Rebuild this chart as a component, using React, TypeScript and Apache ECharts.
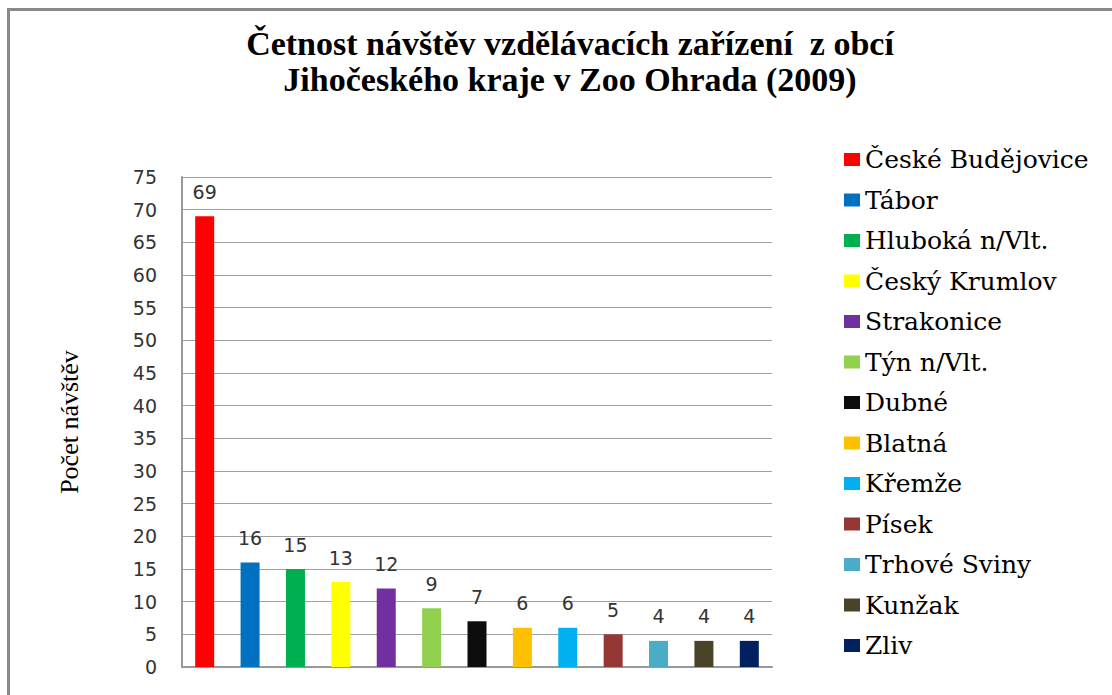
import React, { useEffect, useRef } from "react";
import * as echarts from "echarts";

const categories = [
  "České Budějovice",
  "Tábor",
  "Hluboká n/Vlt.",
  "Český Krumlov",
  "Strakonice",
  "Týn n/Vlt.",
  "Dubné",
  "Blatná",
  "Křemže",
  "Písek",
  "Trhové Sviny",
  "Kunžak",
  "Zliv",
];
const values = [69, 16, 15, 13, 12, 9, 7, 6, 6, 5, 4, 4, 4];
const colors = [
  "#FF0000",
  "#0070C0",
  "#00B050",
  "#FFFF00",
  "#7030A0",
  "#92D050",
  "#0D0D0D",
  "#FFC000",
  "#00B0F0",
  "#953735",
  "#4BACC6",
  "#494429",
  "#002060",
];
const yTicks = { min: 0, max: 75, interval: 5 };
const titleText = "Četnost návštěv vzdělávacích zařízení  z obcí\nJihočeského kraje v Zoo Ohrada (2009)";
const yAxisName = "Počet návštěv";

export default function App() {
  const ref = useRef<HTMLDivElement>(null);
  useEffect(() => {
    if (!ref.current) return;
    const chart = echarts.init(ref.current, null, { renderer: "svg" });
    const series = categories.map((name, i) => ({
      name,
      type: "bar",
      stack: "all",
      barWidth: 19,
      itemStyle: { color: colors[i] },
      label: {
        show: true,
        position: "top",
        distance: 15,
        fontFamily: "DejaVu Sans",
        fontSize: 19,
        color: "#333333",
      },
      data: categories.map((_, j) => (j === i ? values[i] : null)),
    }));
    chart.setOption({
      animation: false,
      backgroundColor: "#ffffff",
      title: {
        text: titleText,
        left: 565,
        top: 20,
        textAlign: "center",
        textStyle: {
          fontFamily: "Liberation Serif",
          fontWeight: "bold",
          fontSize: 34,
          lineHeight: 36,
          color: "#000000",
        },
      },
      graphic: [
        {
          type: "rect",
          shape: { x: 8.5, y: 9.5, width: 1200, height: 800 },
          style: { fill: "none", stroke: "#898989", lineWidth: 3 },
          silent: true,
        },
      ],
      legend: {
        orient: "vertical",
        left: 839,
        top: 142,
        icon: "rect",
        itemWidth: 16,
        itemHeight: 13,
        itemGap: 15.5,
        data: categories,
        textStyle: {
          fontFamily: "DejaVu Serif",
          fontSize: 25,
          lineHeight: 25,
          color: "#000000",
        },
      },
      grid: { left: 182, top: 177, right: 340, bottom: 28, containLabel: false },
      xAxis: {
        type: "category",
        data: categories,
        axisLabel: { show: false },
        axisTick: { show: false },
        axisLine: { show: true, lineStyle: { color: "#999999", width: 2 } },
      },
      yAxis: {
        type: "value",
        min: yTicks.min,
        max: yTicks.max,
        interval: yTicks.interval,
        name: yAxisName,
        nameLocation: "middle",
        nameGap: 100,
        nameTextStyle: {
          fontFamily: "Liberation Serif",
          fontSize: 26,
          color: "#000000",
        },
        axisLabel: {
          margin: 25,
          fontFamily: "DejaVu Sans",
          fontSize: 19,
          color: "#333333",
        },
        axisTick: { show: false },
        axisLine: { show: true, lineStyle: { color: "#999999", width: 2 } },
        splitLine: { show: true, lineStyle: { color: "#a0a0a0", width: 1 } },
      },
      series,
    });
    return () => chart.dispose();
  }, []);
  return (
    <div
      ref={ref}
      style={{ position: "fixed", left: 0, top: 0, width: 1112, height: 695 }}
    />
  );
}
